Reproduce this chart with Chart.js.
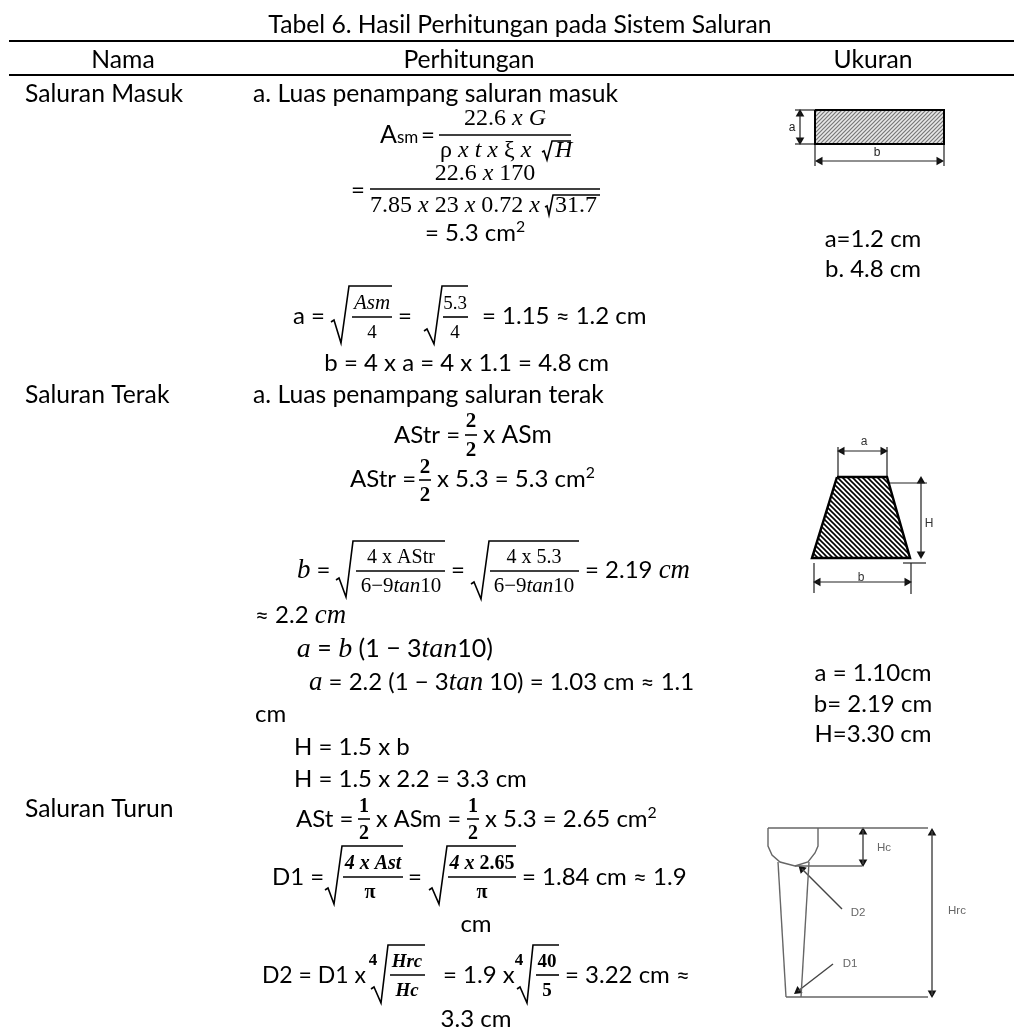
<!DOCTYPE html>
<html>
<head>
<meta charset="utf-8">
<title>Tabel 6</title>
<script src="https://cdn.jsdelivr.net/npm/chart.js@4"></script>
<style>
  html, body { margin: 0; padding: 0; background: #fff; overflow: hidden; }
  canvas { display: block; }
</style>
</head>
<body>
<canvas id="tableChart" width="1014" height="1028"></canvas>
<script>
// Text of the table. '|' switches between upright and italic maths, '^' starts a superscript.
const tableTitle = 'Tabel 6. Hasil Perhitungan pada Sistem Saluran';
const headers = ['Nama', 'Perhitungan', 'Ukuran'];
const rowNames = ['Saluran Masuk', 'Saluran Terak', 'Saluran Turun'];
const sizeLabels = ['a=1.2 cm', 'b. 4.8 cm', 'a = 1.10cm', 'b= 2.19 cm', 'H=3.30 cm'];
const masukLines = ['a. Luas penampang saluran masuk', 'A', 'sm', '=', '22.6 |x G', 'ρ |x t x| ξ |x', '|H', '=',
  '22.6 |x| 170', '7.85 |x| 23 |x| 0.72 |x', '31.7', '= 5.3 cm^2', 'a =', '|Asm', '4', '=', '5.3', '4',
  '= 1.15 ≈ 1.2 cm', 'b = 4 x a = 4 x 1.1 = 4.8 cm'];
const terakLines = ['a. Luas penampang saluran terak', 'AStr =', '2', '2', 'x ASm', 'AStr =', '2', '2',
  'x 5.3 = 5.3 cm^2', '|b| =', '4 x AStr', '6−9|tan|10', '=', '4 x 5.3', '6−9|tan|10', '= 2.19 |cm',
  '≈ 2.2 |cm', '|a| = |b| (1 − 3|tan|10)', '|a| = 2.2 (1 − 3|tan| 10) = 1.03 cm ≈ 1.1', 'cm', 'H = 1.5 x b',
  'H = 1.5 x 2.2 = 3.3 cm'];
const turunLines = ['ASt =', '1', '2', 'x ASm =', '1', '2', 'x 5.3 = 2.65 cm^2', 'D1 =', '|4 x Ast', 'π', '=',
  '|4 x| 2.65', 'π', '= 1.84 cm ≈ 1.9', 'cm', 'D2 = D1 x', '4', '|Hrc', '|Hc', '= 1.9 x', '4', '40', '5',
  '= 3.22 cm ≈', '3.3 cm'];
const diagramLabels = ['a', 'b', 'a', 'H', 'b', 'Hc', 'Hrc', 'D2', 'D1'];

// where each string goes: x, baseline, size, family (s sans, m maths, b bold maths), align
const titleSpot = [520, 33, 24.7, 's', 'center'];
const headerSpots = [[123, 68, 24.7, 's', 'center'], [469, 68, 24.7, 's', 'center'], [873, 68, 24.7, 's', 'center']];
const rowNameSpots = [[25, 102, 24.7, 's', 'left'], [25, 403, 24.7, 's', 'left'], [25, 817, 24.7, 's', 'left']];
const sizeSpots = [[873, 247, 24, 's', 'center'], [873, 277, 24, 's', 'center'], [873, 681, 24, 's', 'center'],
  [873, 712, 24, 's', 'center'], [873, 742, 24, 's', 'center']];
const masukSpots = [[253, 102, 24.7, 's', 'left'], [380, 143, 25, 's', 'left'], [397, 143, 17, 's', 'left'],
  [421, 143, 24, 's', 'left'], [505, 125, 24, 'm', 'center'], [440, 157, 24, 'm', 'left'], [555, 157, 24, 'm', 'left'],
  [351, 198, 24, 's', 'left'], [485, 180, 24, 'm', 'center'], [370, 212, 24, 'm', 'left'], [555, 212, 24, 'm', 'left'],
  [425, 241, 24, 's', 'left'], [293, 324, 24, 's', 'left'], [372, 309, 21, 'm', 'center'], [372, 338, 19, 'm', 'center'],
  [398, 324, 24, 's', 'left'], [455, 309, 19, 'm', 'center'], [455, 338, 19, 'm', 'center'], [482, 324, 24, 's', 'left'],
  [609, 371, 24, 's', 'right']];
const terakSpots = [[253, 403, 24.7, 's', 'left'], [394, 443, 24, 's', 'left'], [471, 427, 21, 'b', 'center'],
  [471, 456, 21, 'b', 'center'], [483, 443, 24.7, 's', 'left'], [350, 487, 24, 's', 'left'], [425, 473, 21, 'b', 'center'],
  [425, 501, 21, 'b', 'center'], [437, 487, 24, 's', 'left'], [297, 578, 24, 's', 'left'], [401, 563, 20, 'm', 'center'],
  [401, 592, 21, 'm', 'center'], [451, 578, 24, 's', 'left'], [534, 563, 20, 'm', 'center'], [534, 592, 21, 'm', 'center'],
  [585, 578, 24, 's', 'left'], [255, 623, 24, 's', 'left'], [493, 657, 25, 's', 'right'], [309, 690, 24, 's', 'left'],
  [255, 722, 24, 's', 'left'], [294, 755, 24, 's', 'left'], [294, 787, 24, 's', 'left']];
const turunSpots = [[296, 827, 24, 's', 'left'], [364, 812, 20, 'b', 'center'], [364, 839, 20, 'b', 'center'],
  [376, 827, 23.5, 's', 'left'], [473, 812, 20, 'b', 'center'], [473, 839, 20, 'b', 'center'], [485, 827, 24, 's', 'left'],
  [272, 885, 24, 's', 'left'], [373, 869, 20, 'b', 'center'], [370, 898, 20, 'b', 'center'], [408, 885, 24, 's', 'left'],
  [482, 869, 20, 'b', 'center'], [482, 898, 20, 'b', 'center'], [522, 885, 24, 's', 'left'], [476, 932, 24, 's', 'center'],
  [366, 983, 23, 's', 'right'], [373, 965, 17, 'b', 'center'], [407, 967, 19, 'b', 'center'], [407, 996, 19, 'b', 'center'],
  [443, 983, 24, 's', 'left'], [519, 965, 17, 'b', 'center'], [547, 967, 19, 'b', 'center'], [547, 996, 19, 'b', 'center'],
  [565, 983, 24, 's', 'left'], [476, 1027, 24, 's', 'center']];
const diagramSpots = [[792, 131, 12, 'l', 'center', '#222'], [877, 156, 12, 'l', 'center', '#222'],
  [864, 445, 12, 'l', 'center', '#333'], [929, 527, 12, 'l', 'center', '#333'], [861, 581, 12, 'l', 'center', '#333'],
  [884, 851, 11.5, 'l', 'center', '#666'], [957, 914, 11.5, 'l', 'center', '#666'], [858, 916, 11.5, 'l', 'center', '#666'],
  [850, 967, 11.5, 'l', 'center', '#666']];

// Lines as [x, y] pairs
const tableRules = [[[9, 41], [1014, 41]], [[9, 75], [1014, 75]]];
const fractionBars = [[[439, 135], [571, 135]], [[370, 189], [600, 189]], [[352, 317], [392, 317]], [[443, 317], [468, 317]],
  [[465, 435], [477, 435]], [[419, 480], [431, 480]], [[356, 571], [445, 571]], [[490, 571], [579, 571]],
  [[358, 819], [370, 819]], [[467, 819], [479, 819]], [[343, 877], [403, 877]], [[448, 877], [516, 877]],
  [[390, 975], [425, 975]], [[536, 975], [559, 975]]];
const radicals = [
  [[542, 152], [544, 151], [547, 160], [552, 141], [571, 141]],
  [[545, 207], [547, 206], [549, 215], [553, 195], [600, 195]],
  [[331, 322], [334, 320], [341, 343], [349, 286], [392, 286]],
  [[424, 331], [427, 329], [434, 344], [442, 286], [468, 286]],
  [[336, 580], [339, 578], [346, 597], [353, 541], [445, 541]],
  [[471, 584], [474, 582], [481, 599], [489, 541], [579, 541]],
  [[325, 890], [328, 888], [334, 904], [342, 846], [403, 846]],
  [[429, 890], [432, 888], [439, 904], [447, 846], [516, 846]],
  [[371, 989], [374, 987], [381, 1003], [388, 945], [425, 945]],
  [[517, 989], [520, 987], [527, 1003], [533, 945], [559, 945]]
];
const hatchedRect = [[815, 110], [944, 110], [944, 144], [815, 144], [815, 110]];
const hatchedTrapezoid = [[837, 477], [887, 477], [910, 558], [812, 558], [837, 477]];
const blackLines = [
  [[795, 110], [815, 110]], [[795, 144], [815, 144]], [[800, 112], [800, 142]],
  [[815, 144], [815, 166]], [[944, 144], [944, 166]], [[818, 161], [941, 161]],
  [[838, 447], [838, 477]], [[887, 447], [887, 477]], [[841, 451], [884, 451]],
  [[888, 483], [927, 483]], [[921, 481], [921, 555]], [[903, 563], [926, 563]],
  [[814, 563], [814, 593]], [[911, 563], [911, 594]], [[817, 582], [908, 582]]
];
const grayLines = [
  [[768, 828], [928, 828]], [[768, 828], [768, 846], [772, 855], [780, 862], [795, 866], [808, 862], [815, 853], [818, 846], [818, 828]],
  [[778, 862], [786, 997]], [[809, 862], [801, 997]], [[786, 997], [928, 997]], [[795, 866], [862, 866]]
];
const darkLines = [
  [[863, 830], [863, 864]], [[932, 831], [932, 995]], [[842, 909], [802, 869]], [[833, 964], [798, 991]]
];
// arrow heads as x, y, rotation
const arrowHeads = [[800, 114, 0], [800, 140, 180], [820, 161, 270], [939, 161, 90], [842, 451, 270], [883, 451, 90],
  [921, 481, 0], [921, 554, 180], [818, 582, 270], [907, 582, 90], [863, 832, 0], [863, 862, 180], [932, 833, 0],
  [932, 993, 180], [802, 869, 315], [798, 991, 233]];

function hatchPattern(forward, ink, paper, size, lineWidth) {
  const tile = document.createElement('canvas');
  tile.width = size;
  tile.height = size;
  const c = tile.getContext('2d');
  c.fillStyle = paper;
  c.fillRect(0, 0, size, size);
  c.strokeStyle = ink;
  c.lineWidth = lineWidth;
  c.beginPath();
  // the main diagonal plus the two corner bits so the tile repeats cleanly
  if (forward) {
    c.moveTo(-1, size + 1); c.lineTo(size + 1, -1);
    c.moveTo(-1, 1); c.lineTo(1, -1);
    c.moveTo(size - 1, size + 1); c.lineTo(size + 1, size - 1);
  } else {
    c.moveTo(-1, -1); c.lineTo(size + 1, size + 1);
    c.moveTo(size - 1, -1); c.lineTo(size + 1, 1);
    c.moveTo(-1, size - 1); c.lineTo(1, size + 1);
  }
  c.stroke();
  return c.createPattern(tile, 'repeat');
}

function toPoints(pairs) {
  return pairs.map(p => ({ x: p[0], y: p[1] }));
}

function strokes(list, color, width) {
  return list.map(pairs => ({
    data: toPoints(pairs),
    showLine: true,
    borderColor: color,
    borderWidth: width,
    pointRadius: 0,
    tension: 0
  }));
}

function shape(pairs, fillStyle, width) {
  return {
    data: toPoints(pairs),
    showLine: true,
    fill: 'shape',
    backgroundColor: fillStyle,
    borderColor: '#000',
    borderWidth: width,
    pointRadius: 0
  };
}

const families = {
  s: 'Lato',
  m: '"Liberation Serif"',
  l: '"Liberation Sans"'
};

function fontFor(family, size, italic) {
  if (italic) {
    // Cambria Math italics run wide, so sans lines get a bigger serif italic
    const italicSize = family === 's' ? size * 1.12 : size;
    return (family === 'b' ? 'italic bold ' : 'italic ') + italicSize + 'px "Liberation Serif"';
  }
  if (family === 'b') return 'bold ' + size + 'px "Liberation Serif"';
  return size + 'px ' + families[family];
}

// writes one string, italic runs between the '|' marks, superscript after '^'
function writeText(chart, text, spot) {
  const ctx = chart.ctx;
  const [x, y, size, family, align, color] = spot;
  const [body, sup] = text.split('^');
  const parts = body.split('|').map((run, i) => ({ run, font: fontFor(family, size, i % 2 === 1), rise: 0 }));
  if (sup) parts.push({ run: sup, font: fontFor(family, size * 0.66, false), rise: size * 0.38 });
  let total = 0;
  parts.forEach(p => {
    ctx.font = p.font;
    total += ctx.measureText(p.run).width;
  });
  let px = chart.scales.x.getPixelForValue(x);
  const py = chart.scales.y.getPixelForValue(y);
  if (align === 'center') px -= total / 2;
  if (align === 'right') px -= total;
  ctx.textAlign = 'left';
  ctx.textBaseline = 'alphabetic';
  ctx.fillStyle = color || '#000';
  parts.forEach(p => {
    ctx.font = p.font;
    ctx.fillText(p.run, px, py - p.rise);
    px += ctx.measureText(p.run).width;
  });
}

const tableText = {
  id: 'tableText',
  afterDraw(chart) {
    const ctx = chart.ctx;
    ctx.save();
    writeText(chart, tableTitle, titleSpot);
    headers.forEach((t, i) => writeText(chart, t, headerSpots[i]));
    rowNames.forEach((t, i) => writeText(chart, t, rowNameSpots[i]));
    sizeLabels.forEach((t, i) => writeText(chart, t, sizeSpots[i]));
    masukLines.forEach((t, i) => writeText(chart, t, masukSpots[i]));
    terakLines.forEach((t, i) => writeText(chart, t, terakSpots[i]));
    turunLines.forEach((t, i) => writeText(chart, t, turunSpots[i]));
    diagramLabels.forEach((t, i) => writeText(chart, t, diagramSpots[i]));
    ctx.restore();
  }
};

const datasets = [
  shape(hatchedRect, hatchPattern(true, '#777', '#e8e8e8', 4, 1.2), 2),
  shape(hatchedTrapezoid, hatchPattern(false, '#000', '#fff', 5, 1.6), 2.5),
  ...strokes(tableRules, '#000', 2),
  ...strokes(fractionBars, '#000', 1.6),
  ...strokes(radicals, '#000', 1.6),
  ...strokes(blackLines, '#222', 1.2),
  ...strokes(grayLines, '#666', 1.4),
  ...strokes(darkLines, '#444', 1.4),
  {
    data: arrowHeads.map(a => ({ x: a[0], y: a[1] })),
    showLine: false,
    pointStyle: 'triangle',
    pointRadius: 5,
    pointRotation: arrowHeads.map(a => a[2]),
    pointBackgroundColor: '#111',
    pointBorderWidth: 0
  }
];

new Chart(document.getElementById('tableChart'), {
  type: 'scatter',
  data: { datasets },
  options: {
    responsive: false,
    animation: false,
    // no inset for the arrow heads, the scales must fill the canvas exactly
    layout: { padding: 0, autoPadding: false },
    plugins: { legend: { display: false }, tooltip: { enabled: false } },
    scales: {
      x: { type: 'linear', min: 0, max: 1014, display: false },
      y: { type: 'linear', min: 0, max: 1028, reverse: true, display: false }
    }
  },
  plugins: [tableText]
});
</script>
</body>
</html>
